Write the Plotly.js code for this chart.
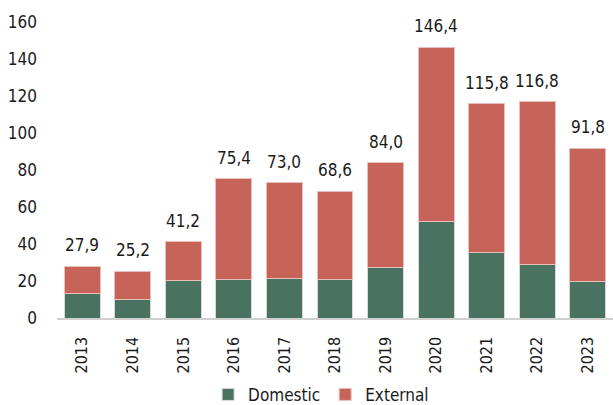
<!DOCTYPE html>
<html><head><meta charset="utf-8">
<script src="https://cdn.plot.ly/plotly-3.0.1.min.js"></script>
<style>html,body{margin:0;padding:0;background:#fff}#chart{width:613px;height:405px}</style>
</head><body><div id="chart"></div>
<script>
const years = ['2013','2014','2015','2016','2017','2018','2019','2020','2021','2022','2023'];
const domestic = [13.5, 9.9, 20.2, 20.8, 21.3, 20.8, 27.4, 52.3, 35.3, 29.0, 19.7];
const external = [14.4, 15.3, 21.0, 54.6, 51.7, 47.8, 56.6, 94.1, 80.5, 87.8, 72.1];
const totals = [27.9, 25.2, 41.2, 75.4, 73.0, 68.6, 84.0, 146.4, 115.8, 116.8, 91.8];
const totalLabels = ['27,9','25,2','41,2','75,4','73,0','68,6','84,0','146,4','115,8','116,8','91,8'];
const tickVals = [0,20,40,60,80,100,120,140,160];

const font = {family: '"DejaVu Sans Condensed", sans-serif', size: 17, color: '#1a1a1a'};
const xfont = {family: '"DejaVu Sans Condensed", sans-serif', size: 16, color: '#1a1a1a'};
const traces = [
  {type:'bar', name:'Domestic', x:years, y:domestic, marker:{color:'#4a7260', line:{color:'#d9d9d9', width:1}}, hoverinfo:'skip'},
  {type:'bar', name:'External', x:years, y:external, marker:{color:'#c6645a', line:{color:'#e8c0bb', width:1}}, hoverinfo:'skip'}
];
const annotations = years.map((yr,i)=>({x:i, y:totals[i], xref:'x', yref:'y', text:totalLabels[i], showarrow:false, yanchor:'bottom', yshift:9, font:font}));
const layout = {
  width:613, height:405,
  margin:{l:57, r:0, t:22, b:87},
  barmode:'stack', bargap:0.29,
  paper_bgcolor:'#fff', plot_bgcolor:'#fff',
  font:font,
  showlegend:true,
  legend:{orientation:'h', x:0.475, xanchor:'center', xref:'paper', yref:'container', y:0.025, yanchor:'middle', font:font, traceorder:'normal', itemwidth:30},
  xaxis:{type:'category', categoryorder:'array', categoryarray:years, range:[-0.5,10.5], tickangle:-90, showline:true, linecolor:'#d0d0d0', linewidth:1.5, ticks:'', showgrid:false, tickfont:xfont, ticklabelstandoff:11, automargin:false},
  yaxis:{range:[0,160], tickvals:tickVals, showgrid:false, zeroline:false, showline:false, ticks:'', tickfont:font, ticklabelstandoff:19, automargin:false},
  annotations:annotations
};
Plotly.newPlot('chart', traces, layout, {displayModeBar:false, staticPlot:true});
</script></body></html>
